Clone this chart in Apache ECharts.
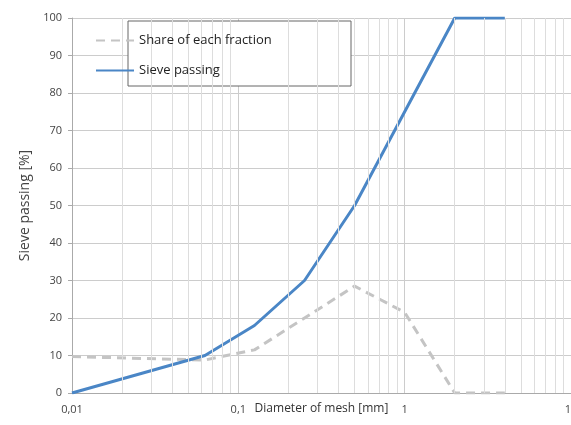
<!DOCTYPE html>
<html>
<head>
<meta charset="utf-8">
<script src="https://cdn.jsdelivr.net/npm/echarts@6/dist/echarts.min.js"></script>
<style>
  html, body { margin: 0; padding: 0; background: #fff; }
  #chart { width: 571px; height: 425px; }
</style>
</head>
<body>
<div id="chart"></div>
<script>
// sieve sizes [mm]
const sizes = [0.01, 0.063, 0.125, 0.25, 0.5, 1, 2, 4]
// share of each fraction [%]
const share = [9.7, 8.8, 11.5, 20, 28.5, 21.5, 0, 0]
// sieve passing [%]
const passing = [0, 10, 18, 30, 50, 75, 100, 100]
// minor grid lines of the log axis
const minorLines = [
  0.02, 0.03, 0.04, 0.05, 0.06, 0.07, 0.08, 0.09,
  0.2, 0.3, 0.4, 0.5, 0.6, 0.7, 0.8, 0.9,
  2, 3, 4, 5, 6, 7, 8, 9
]
const yTicks = [0, 10, 20, 30, 40, 50, 60, 70, 80, 90, 100]

const font = "'Open Sans', 'Noto Sans', sans-serif"
const myChart = echarts.init(document.getElementById('chart'))

myChart.setOption({
  animation: false,
  grid: { left: 72, right: 0, top: 18, bottom: 32, outerBoundsMode: 'none', containLabel: false },
  legend: {
    orient: 'vertical',
    left: 90,
    top: 29,
    itemWidth: 38,
    itemHeight: 12,
    itemGap: 17,
    z: 6,
    itemStyle: { opacity: 0 },
    textStyle: { fontFamily: font, fontSize: 13, color: '#222' },
    data: ['Share of each fraction', 'Sieve passing']
  },
  graphic: [
    {
      type: 'rect',
      z: 5,
      shape: { x: 128, y: 21, width: 223, height: 65 },
      style: { fill: '#fff', stroke: '#666', lineWidth: 1 }
    }
  ],
  xAxis: {
    type: 'log',
    logBase: 10,
    min: 0.01,
    max: 10,
    name: 'Diameter of mesh [mm]',
    nameLocation: 'middle',
    nameGap: 10,
    nameMoveOverlap: false,
    nameTextStyle: { fontFamily: font, fontSize: 12, color: '#333' },
    axisLine: { lineStyle: { color: '#aaa' } },
    axisTick: { show: false },
    axisLabel: {
      fontFamily: font,
      fontSize: 11,
      color: '#444',
      margin: 11,
      formatter: function (v) {
        return String(v).replace('.', ',')
      }
    },
    splitLine: { show: true, lineStyle: { color: '#ccc' } }
  },
  yAxis: {
    type: 'value',
    min: 0,
    max: 100,
    interval: 10,
    name: 'Sieve passing [%]',
    nameLocation: 'middle',
    nameGap: 40,
    nameTextStyle: { fontFamily: font, fontSize: 14, color: '#444' },
    axisLine: { show: true, lineStyle: { color: '#aaa' } },
    axisTick: { show: true, length: 4, lineStyle: { color: '#aaa' } },
    axisLabel: {
      fontFamily: font,
      fontSize: 11,
      color: '#444',
      margin: 10,
      formatter: function (v) {
        return yTicks.indexOf(v) >= 0 ? String(v) : ''
      }
    },
    splitLine: { lineStyle: { color: '#ccc' } }
  },
  series: [
    {
      name: 'minor',
      type: 'line',
      data: [],
      silent: true,
      z: 1,
      markLine: {
        silent: true,
        symbol: 'none',
        label: { show: false },
        lineStyle: { color: '#ddd', type: 'solid', width: 1 },
        data: minorLines.map(function (v) { return { xAxis: v } })
      }
    },
    {
      name: 'Share of each fraction',
      type: 'line',
      symbol: 'none',
      z: 3,
      lineStyle: { color: '#c4c4c4', width: 3, type: [9, 6] },
      itemStyle: { color: '#c4c4c4' },
      data: sizes.map(function (s, i) { return [s, share[i]] })
    },
    {
      name: 'Sieve passing',
      type: 'line',
      symbol: 'none',
      z: 4,
      lineStyle: { color: '#4a86c6', width: 3 },
      itemStyle: { color: '#4a86c6' },
      data: sizes.map(function (s, i) { return [s, passing[i]] })
    }
  ]
})
</script>
</body>
</html>
